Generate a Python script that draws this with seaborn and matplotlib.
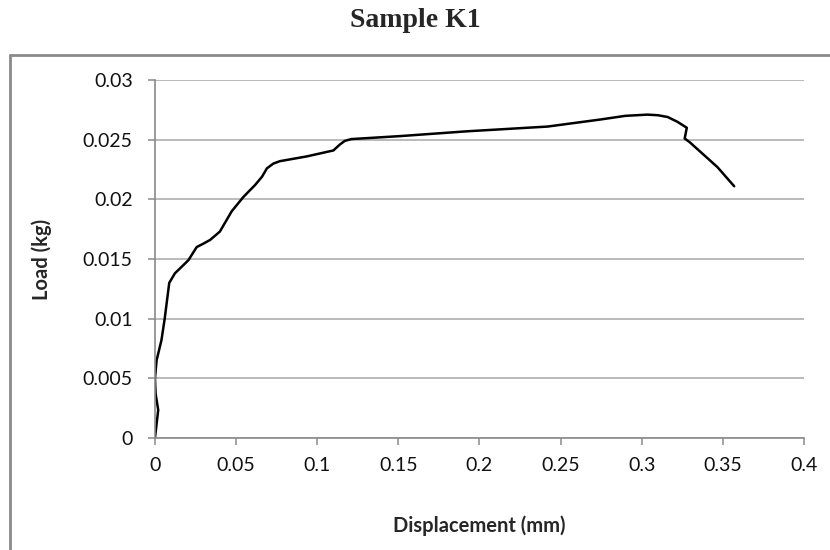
"""
Load-displacement curve, Sample K1
Output: out.png
"""

import matplotlib.pyplot as plt
from matplotlib.lines import Line2D
import seaborn as sns

# curve
displacement = [0, 0.002, 0.0004, 0, 0.001, 0.004, 0.006, 0.0088, 0.0123, 0.0206,
                0.0257, 0.030, 0.034, 0.040, 0.0473, 0.0545, 0.0617, 0.066, 0.069,
                0.073, 0.077, 0.0936, 0.110, 0.114, 0.117, 0.121, 0.151, 0.192,
                0.242, 0.275, 0.29, 0.3035, 0.310, 0.316, 0.322, 0.3278, 0.3265,
                0.3295, 0.3467, 0.357]
load = [0, 0.00235, 0.0037, 0.005, 0.0065, 0.0082, 0.0100, 0.0130, 0.0138, 0.0149,
        0.0160, 0.0163, 0.0166, 0.0173, 0.0190, 0.0202, 0.0212, 0.0219, 0.0226,
        0.0230, 0.0232, 0.0236, 0.0241, 0.0246, 0.0249, 0.02505, 0.0253, 0.0257,
        0.0261, 0.0267, 0.0270, 0.0271, 0.02705, 0.0269, 0.0265, 0.0260, 0.0251,
        0.0248, 0.0227, 0.0211]

x_ticks = [0, 0.05, 0.1, 0.15, 0.2, 0.25, 0.3, 0.35, 0.4]
x_labels = ['0', '0.05', '0.1', '0.15', '0.2', '0.25', '0.3', '0.35', '0.4']
y_ticks = [0, 0.005, 0.01, 0.015, 0.02, 0.025, 0.03]
y_labels = ['0', '0.005', '0.01', '0.015', '0.02', '0.025', '0.03']

sns.set_style('white')
plt.rcParams['font.family'] = ['Lato', 'DejaVu Sans']

GRID = '#b4b4b4'
AXIS = '#8a8a8a'


def create_chart():
    fig = plt.figure(figsize=(8.3, 5.5), dpi=100)
    ax = fig.add_axes([0.1867, 0.2036, 0.7819, 0.6509])

    sns.lineplot(x=displacement, y=load, sort=False, estimator=None,
                 color='black', linewidth=1.8, ax=ax)
    for ln in ax.lines:
        ln.set_solid_joinstyle('round')

    ax.set_xlim(0, 0.4)
    ax.set_ylim(0, 0.03)
    ax.set_xticks(x_ticks)
    ax.set_xticklabels(x_labels)
    ax.set_yticks(y_ticks)
    ax.set_yticklabels(y_labels)

    ax.yaxis.grid(True, color=GRID, linewidth=1.3)
    ax.xaxis.grid(False)
    ax.set_axisbelow(True)

    for side in ['top', 'right']:
        ax.spines[side].set_visible(False)
    for side in ['left', 'bottom']:
        ax.spines[side].set_color(AXIS)
        ax.spines[side].set_linewidth(1.2)

    ax.tick_params(axis='both', which='major', direction='out', length=5,
                   width=1.1, color=AXIS, labelsize=14, labelcolor='#111111')
    ax.tick_params(axis='y', pad=11)
    ax.tick_params(axis='x', pad=9)
    ax.tick_params(left=True, bottom=True)

    ax.set_xlabel('Displacement (mm)', fontsize=14.5, fontweight='bold')
    ax.set_ylabel('Load (kg)', fontsize=14.5, fontweight='bold')
    ax.xaxis.set_label_coords(0.5, -0.215)
    ax.yaxis.set_label_coords(-0.158, 0.5)

    fig.text(0.5, 0.962, 'Sample K1', ha='center', va='center', fontsize=20,
             fontweight='bold', family=['Liberation Serif', 'DejaVu Serif'])

    # chart frame (left and top edges only visible)
    fig.add_artist(Line2D([0.012, 0.012], [0.0, 0.9], color=AXIS, linewidth=2,
                          transform=fig.transFigure))
    fig.add_artist(Line2D([0.012, 1.0], [0.9, 0.9], color=AXIS, linewidth=2,
                          transform=fig.transFigure))

    fig.savefig('out.png', dpi=100)
    plt.close(fig)


if __name__ == '__main__':
    create_chart()
